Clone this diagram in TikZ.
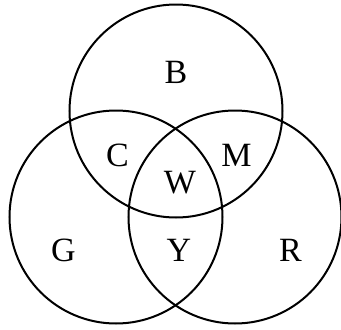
\documentclass[tikz,border=0pt]{standalone}
\usepackage{fontspec}
\setmainfont{Liberation Serif}
\usetikzlibrary{positioning}

\tikzset{
  setcircle/.style={draw, circle, line width=2bp, minimum size=213bp, inner sep=0pt},
  setlabel/.style={font=\fontsize{34bp}{40bp}\selectfont, inner sep=0pt}
}

\begin{document}
\begin{tikzpicture}[x=1bp, y=-1bp]
\useasboundingbox (0,0) rectangle (341,330);

% the three sets
\node[setcircle] (blue)  at (176,111) {};
\node[setcircle] (green) at (116,217) {};
\node[setcircle] (red)   at (235,217) {};

% region labels
\node[setlabel] (b) at (176,72.5) {B};
\node[setlabel] (c) at (117.5,155) {C};
\node[setlabel] (m) at (236.5,155) {M};
\node[setlabel] (w) at (180,182.5) {W};
\node[setlabel] (g) at (63.5,250) {G};
\node[setlabel] (y) at (179,250) {Y};
\node[setlabel] (r) at (290.5,250) {R};
\end{tikzpicture}
\end{document}
